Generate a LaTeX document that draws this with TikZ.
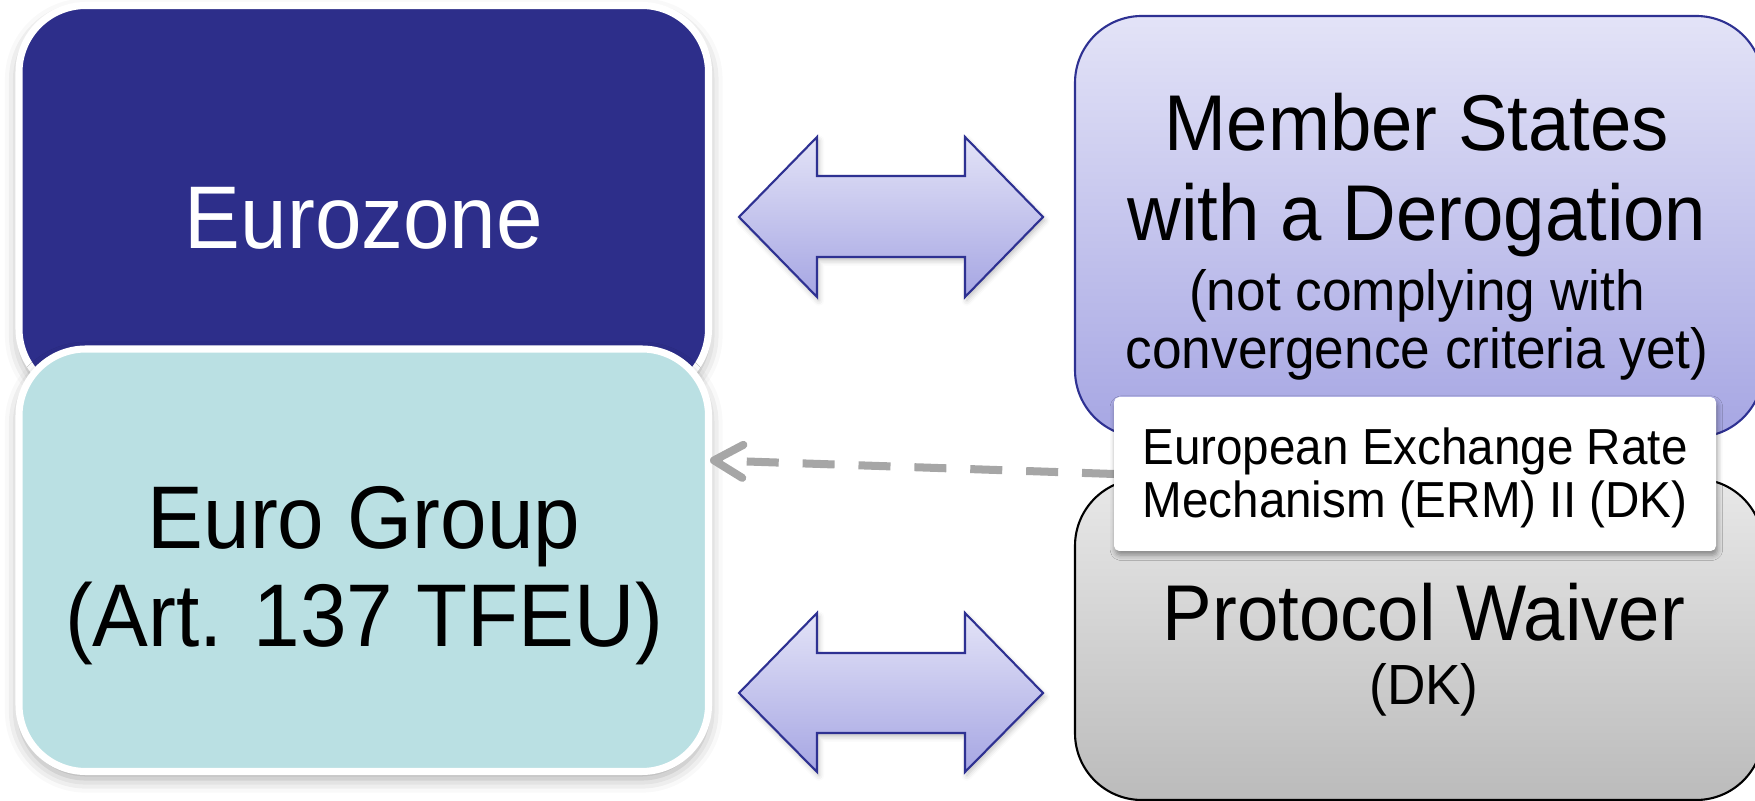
\documentclass[tikz,border=0pt]{standalone}
\usepackage{fontspec}
\setmainfont[FakeStretch=0.94]{Liberation Sans}
\usetikzlibrary{fit,arrows.meta,shadows.blur}

\definecolor{ezblue}{HTML}{2D2E8A}
\definecolor{egcyan}{HTML}{BAE0E3}
\definecolor{lavtop}{HTML}{E3E3F7}
\definecolor{lavbot}{HTML}{A6A6E3}
\definecolor{edgeblue}{HTML}{2E3192}
\definecolor{greytop}{HTML}{E8E8E8}
\definecolor{greybot}{HTML}{BBBBBB}
\definecolor{dashgrey}{HTML}{A6A6A6}

\pgfdeclarelayer{front}
\pgfsetlayers{main,front}

\begin{document}
\begin{tikzpicture}[x=0.01cm,y=-0.01cm,
  panel/.style={rounded corners=19pt, inner sep=0pt, outer sep=0pt},
  whitepanel/.style={panel, draw=white, line width=2pt,
    blur shadow={shadow xshift=0pt, shadow yshift=-2pt, shadow blur radius=4pt, shadow opacity=35}},
  lavpanel/.style={panel, draw=edgeblue, line width=0.6pt, top color=lavtop, bottom color=lavbot},
  greypanel/.style={panel, draw=black, line width=0.6pt, top color=greytop, bottom color=greybot},
  notebox/.style={inner sep=0pt, outer sep=0pt, rounded corners=1.5pt, fill=white,
    blur shadow={shadow xshift=0.4pt, shadow yshift=-1.2pt, shadow blur radius=1.5pt, shadow opacity=40}},
  bigtxt/.style={anchor=base, inner sep=0pt, font=\fontsize{25.3}{30}\selectfont},
  midtxt/.style={anchor=base, inner sep=0pt, font=\fontsize{22.5}{27}\selectfont},
  smalltxt/.style={anchor=base, inner sep=0pt, font=\fontsize{16.1}{19}\selectfont},
  ermtxt/.style={anchor=base, inner sep=0pt, font=\fontsize{14.4}{17}\selectfont},
  blockarrow/.style={draw=edgeblue, line width=0.6pt, line join=miter, top color=lavtop, bottom color=lavbot,
    blur shadow={shadow xshift=0.5pt, shadow yshift=-1pt, shadow blur radius=1.5pt, shadow opacity=25}},
  linkarrow/.style={draw=dashgrey, line width=2.28pt, dash pattern=on 9.1pt off 6.8pt,
    -{Straight Barb[length=8.2pt, width=9.4pt, round]}}
]
\useasboundingbox (0,0) rectangle (1755,801);

% left column: Eurozone with the Euro Group in front of it
\node[whitepanel, fill=ezblue, fit={(19,5.5) (708.5,395.5)}] (ez) {};
\node[whitepanel, fill=egcyan, fit={(19,349) (708.5,771.5)}] (eg) {};

% two-way block arrows
\path[blockarrow] (739,217) -- (817,137) -- (817,176) -- (965,176) -- (965,137) -- (1043,217)
  -- (965,297) -- (965,257) -- (817,257) -- (817,297) -- cycle;
\path[blockarrow] (739,693) -- (817,613) -- (817,653) -- (965,653) -- (965,613) -- (1043,693)
  -- (965,772) -- (965,733) -- (817,733) -- (817,772) -- cycle;

% right column (running past the right edge of the page)
\node[lavpanel, fit={(1075,16) (1763,437)}] (ms) {};
\node[greypanel, fit={(1075,479) (1763,800)}] (pw) {};

% ERM II note, kept in front of its link
\begin{pgfonlayer}{front}
\node[notebox, fit={(1114,397) (1716,551)}] (erm) {};
\end{pgfonlayer}
\draw[linkarrow] (erm.west) -- ([shift={(1.5,-100)}]eg.east);

% texts
\begin{pgfonlayer}{front}
\node[bigtxt, text=white] (ez-t) at (364,248.5) {Eurozone};
\node[bigtxt] (eg-t1) at (364,548.5) {Euro Group};
\node[bigtxt] (eg-t2) at (364,647) {(Art. 137 TFEU)};
\node[midtxt] (ms-t1) at (1417,151) {Member States};
\node[midtxt] (ms-t2) at (1417,240.6) {with a Derogation};
\node[smalltxt] (ms-t3) at (1417,311) {(not complying with};
\node[smalltxt] (ms-t4) at (1417,369) {convergence criteria yet)};
\node[midtxt] (pw-t1) at (1424,641) {Protocol Waiver};
\node[smalltxt] (pw-t2) at (1424,705) {(DK)};
\node[ermtxt] (erm-t1) at (1415,464.5) {European Exchange Rate};
\node[ermtxt] (erm-t2) at (1415,518) {Mechanism (ERM) II (DK)};
\end{pgfonlayer}
\end{tikzpicture}
\end{document}
